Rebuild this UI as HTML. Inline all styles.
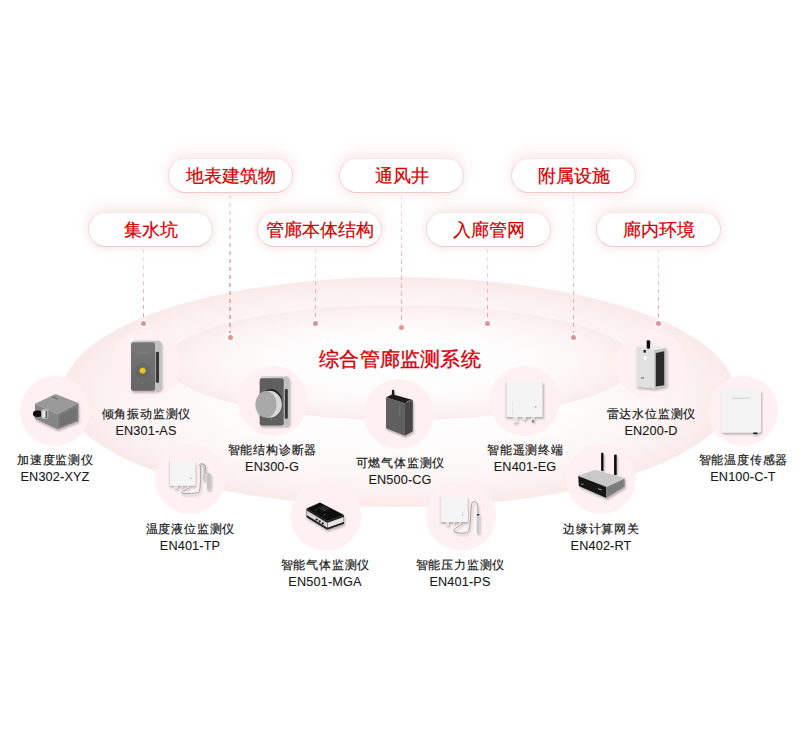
<!DOCTYPE html>
<html><head><meta charset="utf-8">
<style>
*{margin:0;padding:0;box-sizing:border-box}
html,body{width:800px;height:739px;background:#fff;overflow:hidden}
body{position:relative;font-family:"Liberation Sans",sans-serif}
.abs{position:absolute}
.ell1{position:absolute;left:62.6px;top:277.4px;width:671.6px;height:229.7px;border-radius:50%;
 background:radial-gradient(closest-side,#fff 0%,#fefcfc 50%,#fcf6f5 76%,#fbf0ef 90%,#faeaea 100%)}
.ell2{position:absolute;left:165px;top:305.3px;width:470px;height:115.2px;border-radius:50%;
 background:radial-gradient(closest-side,#fff 0%,#fefdfd 45%,#fdf8f8 70%,#fcf2f2 88%,#faecec 100%)}
.pill{position:absolute;width:125px;height:35px;border-radius:18px;background:#fff;
 border:1px solid;border-color:#f9e8e8 #f4d8d9 #efc8ca #f4d8d9;color:#d40000;font-size:18px;-webkit-text-stroke:.2px #d40000;line-height:34.5px;text-align:center;
 box-shadow:0 -6px 14px rgba(228,115,115,.13),0 3px 9px rgba(215,120,120,.12)}
.vline{position:absolute;
 background:repeating-linear-gradient(to bottom,#e9a3a8 0 4.5px,transparent 4.5px 8px);
 -webkit-mask-image:linear-gradient(to bottom,rgba(0,0,0,.3),rgba(0,0,0,.75) 45%,#000);mask-image:linear-gradient(to bottom,rgba(0,0,0,.3),rgba(0,0,0,.7) 45%,#000)}
.dot{position:absolute;width:5px;height:5px;border-radius:50%;background:#e3929a;box-shadow:0 0 0 1.4px rgba(255,255,255,.75)}
.circ{position:absolute;width:70px;height:70px;border-radius:50%;background:#fef0f3;filter:blur(.5px)}
.lab{position:absolute;width:120px;text-align:center;color:#1a1a1a;-webkit-text-stroke:.2px #1a1a1a;font-size:12px;letter-spacing:0.8px;text-indent:0.8px;line-height:16.5px;white-space:nowrap}
.m{font-size:12.7px;font-weight:400;letter-spacing:0.15px;-webkit-text-stroke:.12px #1a1a1a}
.title{position:absolute;left:300px;width:200px;top:346px;text-align:center;color:#d6000c;font-size:20px;line-height:26px;letter-spacing:0.2px;-webkit-text-stroke:.35px #d6000c}
</style></head><body>
<div class="ell1"></div>
<div class="ell2"></div>

<!-- dashed lines -->
<div class="vline" style="left:143.1px;top:249px;height:68.5px;width:1px"></div>
<div class="dot" style="left:141.10px;top:320.50px"></div>
<div class="vline" style="left:229.2px;top:195px;height:138px;width:1.6px"></div>
<div class="dot" style="left:227.50px;top:334.80px"></div>
<div class="vline" style="left:314.8px;top:249px;height:68.5px;width:1px"></div>
<div class="dot" style="left:312.80px;top:320.50px"></div>
<div class="vline" style="left:400.7px;top:195px;height:129px;width:1.2px"></div>
<div class="dot" style="left:398.80px;top:325.00px"></div>
<div class="vline" style="left:486.5px;top:249px;height:68.5px;width:1px"></div>
<div class="dot" style="left:484.50px;top:320.50px"></div>
<div class="vline" style="left:572.6px;top:195px;height:138px;width:1.2px"></div>
<div class="dot" style="left:570.70px;top:335.00px"></div>
<div class="vline" style="left:658px;top:249px;height:68.5px;width:1px"></div>
<div class="dot" style="left:656.00px;top:320.50px"></div>

<!-- pills -->
<div class="pill" style="left:168px;top:158px">地表建筑物</div>
<div class="pill" style="left:339px;top:158px">通风井</div>
<div class="pill" style="left:511px;top:158px">附属设施</div>
<div class="pill" style="left:88px;top:212px">集水坑</div>
<div class="pill" style="left:257px;top:212px">管廊本体结构</div>
<div class="pill" style="left:426px;top:212px">入廊管网</div>
<div class="pill" style="left:596px;top:212px">廊内环境</div>

<div class="title">综合管廊监测系统</div>

<!-- circles -->
<div class="circ" style="left:111px;top:329px"></div>
<div class="circ" style="left:20px;top:376px"></div>
<div class="circ" style="left:238px;top:366px"></div>
<div class="circ" style="left:364px;top:379px"></div>
<div class="circ" style="left:490px;top:366px"></div>
<div class="circ" style="left:616px;top:329px"></div>
<div class="circ" style="left:708px;top:376px"></div>
<div class="circ" style="left:155px;top:444px"></div>
<div class="circ" style="left:291px;top:481px"></div>
<div class="circ" style="left:426px;top:481px"></div>
<div class="circ" style="left:566px;top:444px"></div>

<!-- DEVICES -->
<svg class="abs" style="left:0;top:0" width="800" height="739" viewBox="0 0 800 739">
<defs>
<filter id="sh" x="-30%" y="-30%" width="160%" height="160%"><feGaussianBlur in="SourceAlpha" stdDeviation="1.2"/><feOffset dx="1" dy="1.5"/><feComponentTransfer><feFuncA type="linear" slope=".28"/></feComponentTransfer><feMerge><feMergeNode/><feMergeNode in="SourceGraphic"/></feMerge></filter>
<linearGradient id="g301" x1="0" y1="0" x2="0" y2="1"><stop offset="0" stop-color="#777"/><stop offset="1" stop-color="#666"/></linearGradient>
<linearGradient id="silv" x1="0" y1="0" x2="1" y2="0"><stop offset="0" stop-color="#d9d9d9"/><stop offset="1" stop-color="#bdbdbd"/></linearGradient>
</defs>
<!-- EN301-AS -->
<g filter="url(#sh)">
 <path d="M131.5,342.5 L134,340.2 L159.5,340.8 L161.5,343.5 L161.5,387.5 L158.5,390 L155,390.7 L155,343.2 Z" fill="url(#silv)"/>
 <rect x="131" y="342.3" width="24" height="48.5" rx="2" fill="url(#g301)"/>
 <rect x="155.8" y="351.8" width="3.2" height="31" rx="1" fill="#383838"/>
 <circle cx="142.6" cy="370.6" r="7" fill="none" stroke="#5c5c5c" stroke-width=".7"/>
 <circle cx="142.6" cy="370.6" r="5" fill="none" stroke="#5c5c5c" stroke-width=".7"/>
 <circle cx="142.6" cy="370.6" r="2.9" fill="#f1c415"/>
 <circle cx="142.2" cy="383.4" r=".7" fill="#3c3"/>
 <rect x="137.5" y="352.6" width="10" height=".8" fill="#888"/>
</g>
<!-- EN302-XYZ -->
<g filter="url(#sh)">
 <path d="M35,403.7 L55.3,394 L78.4,403 L57.4,413.9 Z" fill="#999"/>
 <path d="M35,403.7 L57.4,413.9 L57.4,429.3 L35,418.8 Z" fill="#868686"/>
 <path d="M57.4,413.9 L78.4,403 L78.4,420.9 L57.4,429.3 Z" fill="#7b7b7b"/>
 <path d="M59.5,416 L76.5,407.2 L76.5,419.8 L59.5,426.8 Z" fill="#727272"/>
 <path d="M35,403.7 L57.4,413.9 L78.4,403" fill="none" stroke="#a8a8a8" stroke-width=".7"/>
 <path d="M57.4,413.9 L57.4,429.3" stroke="#8c8c8c" stroke-width=".8"/>
 <rect x="52" y="397.5" width="6" height=".8" fill="#555" transform="rotate(25 55 398)"/>
 <path d="M33,413 C33,410.5 38,410 41,411 L41.5,416.5 C38,417.5 33,417 33,414.5 Z" fill="#111"/>
 <rect x="41.3" y="409.3" width="7" height="9.5" rx="2.2" fill="#c4c4c4"/>
 <rect x="42.6" y="411" width="3.2" height="6" rx="1" fill="#e8e8e8"/>
 <rect x="45.6" y="410.5" width="1.6" height="7.5" rx=".6" fill="#555"/>
</g>
<!-- EN300-G -->
<g filter="url(#sh)">
 <path d="M260,378.5 L262,375.9 L288,376.5 L289.5,379.2 L289.5,423.7 L287,425.4 L283.6,425.4 L283.6,378.5 Z" fill="url(#silv)"/>
 <rect x="259.7" y="378.3" width="24" height="47.1" rx="2" fill="#5f5f5f"/>
 <rect x="284.8" y="388.9" width="3" height="29.8" rx="1" fill="#353535"/>
 <ellipse cx="271" cy="402" rx="11" ry="13" fill="#222"/>
 <ellipse cx="269.5" cy="404.3" rx="12.3" ry="13.5" fill="#d8d8d8"/>
 <ellipse cx="266" cy="404.3" rx="10.5" ry="13.2" fill="#a9a9a9"/>
 <circle cx="271.4" cy="419.5" r=".7" fill="#3c3"/>
</g>
<!-- EN500-CG -->
<g filter="url(#sh)">
 <rect x="391.9" y="389.8" width="2.3" height="9" rx="1" fill="#1a1a1a"/>
 <path d="M386,397.3 L392.5,394.3 L412.8,400 L404.9,403.2 Z" fill="#1c1c1c"/>
 <path d="M386,397.3 L404.9,403.2 L404.9,435.8 L386,428.3 Z" fill="#5e5e5e"/>
 <path d="M404.9,403.2 L412.8,400 L412.8,431.3 L404.9,435.8 Z" fill="#464646"/>
 <rect x="399.3" y="406.5" width=".8" height="9" fill="#777"/>
 <path d="M406.5,401.5 L410.5,400 L410.5,400.8 L406.5,402.3Z" fill="#999"/>
</g>
<!-- EN401-EG -->
<g filter="url(#sh)">
 <rect x="513.6" y="416" width="3.9" height="6.5" fill="#e6e6e6"/>
 <rect x="522.7" y="416" width="3.3" height="3.8" fill="#e6e6e6"/>
 <rect x="531.5" y="416" width="2.8" height="5" fill="#e0e0e0"/>
 <rect x="532.3" y="420" width="1.3" height="2.5" fill="#555"/>
 <rect x="505.5" y="382.2" width="37.4" height="34.8" rx="1" fill="#f4f4f4"/>
 <rect x="505.5" y="382.2" width="1" height="34.8" fill="#d3d3d3"/>
 <rect x="542" y="382.2" width="1" height="34.8" fill="#dadada"/>
 <rect x="535" y="406.2" width="1.4" height="1.4" fill="#6ab0f0"/>
 <rect x="512.4" y="402" width=".6" height="13" fill="#e2e2e2"/>
</g>
<!-- EN200-D -->
<g filter="url(#sh)">
 <path d="M636.4,346.6 L641,345 L651.2,344.7 L666.4,348.1 L654.3,350.2 Z" fill="#ececec"/>
 <rect x="646.7" y="340.2" width="3.4" height="8.5" rx="1.2" fill="#111"/>
 <path d="M636.4,346.6 L654.3,350.2 L654.3,388.3 L636.4,386.5 Z" fill="#e1e1e1"/>
 <path d="M654.3,350.2 L666.4,348.1 L666.4,386 L654.3,388.3 Z" fill="#c4c4c4"/>
 <path d="M655.8,353 L664.2,351.3 L664.2,385.2 L655.8,386.6 Z" fill="#2a2a2a"/>
 <rect x="643.5" y="350" width="2.4" height="2.6" fill="#222"/>
 <circle cx="645.2" cy="358" r="2.6" fill="#f7f7f7" stroke="#cfcfcf" stroke-width=".5"/>
 <rect x="641" y="377.5" width="3" height=".9" fill="#555"/>
</g>
<!-- EN100-C-T -->
<g filter="url(#sh)">
 <rect x="753.3" y="431" width="4" height="3" fill="#111"/>
 <rect x="721.3" y="389.5" width="39.7" height="42.9" rx="2.5" fill="#f3f3f3"/>
 <rect x="732.5" y="397.7" width="17.3" height=".8" fill="#c4c4c4"/>
</g>
<!-- EN401-TP -->
<g filter="url(#sh)">
 <rect x="174.7" y="485" width="3" height="3.8" fill="#e4e4e4"/>
 <rect x="181.2" y="485" width="1.7" height="2.5" fill="#e4e4e4"/>
 <rect x="187.4" y="485" width="1.6" height="3" fill="#e4e4e4"/>
 <path d="M188.2,488 C186,491 181,490.5 181.5,492.8 C182,494.5 195,493.5 198.5,492.6 C201.5,491.5 200,468 200.5,465.5 C201,463 205,463.5 205.5,466.5 L206,474" fill="none" stroke="#9a9a9a" stroke-width=".9"/>
 <path d="M199,466 C199.5,463 203.5,463 204,465.5 L204.3,474" fill="none" stroke="#a5a5a5" stroke-width=".8"/>
 <rect x="203" y="473.9" width="2.6" height="6.5" rx=".8" fill="#c9c9c9"/>
 <rect x="206.9" y="473.2" width="3.7" height="16.3" rx="1" fill="#c4c4c4"/>
 <rect x="169.2" y="460.9" width="26" height="24.7" rx="1" fill="#f5f5f5"/>
 <rect x="169.2" y="460.9" width=".8" height="24.7" fill="#d7d7d7"/>
 <rect x="190.3" y="477.6" width="1.2" height="1.2" fill="#6ab0f0"/>
</g>
<!-- EN501-MGA -->
<g filter="url(#sh)">
 <path d="M306.5,508.4 L327.2,521 L327.2,529.8 L306.5,517.2 Z" fill="#1a1a1a"/>
 <path d="M306.8,510.5 L327,522.8 L327,527.5 L306.8,515.2 Z" fill="#d5d5d5"/>
 <path d="M327.2,521 L344,515 L344,523.8 L327.2,529.8 Z" fill="#1a1a1a"/>
 <path d="M327.5,522.8 L343.7,517 L343.7,522 L327.5,527.8 Z" fill="#e3e3e3"/>
 <path d="M306.5,508.4 L320,502.4 L344,515 L327.2,521 Z" fill="#111"/>
 <path d="M318,508 L324,505.5 L330,509 L324,511.5Z" fill="#2a2a2a"/>
 <circle cx="316.7" cy="519.5" r="1.1" fill="#111"/>
 <circle cx="319.7" cy="521.3" r="1.1" fill="#111"/>
 <circle cx="322.7" cy="523.4" r="1.1" fill="#111"/>
 <circle cx="316" cy="510" r=".5" fill="#7a3"/>
 <circle cx="324.3" cy="514.8" r=".5" fill="#7a3"/>
</g>
<!-- EN401-PS -->
<g filter="url(#sh)">
 <rect x="446.5" y="521.5" width="2.4" height="4.1" fill="#e4e4e4"/>
 <rect x="453.1" y="521.5" width="1.3" height="2.5" fill="#e4e4e4"/>
 <rect x="459.1" y="521.5" width="1.8" height="3.3" fill="#e4e4e4"/>
 <path d="M460,524.7 C459,527.5 453,528 454,531 C455,533.5 466,534 468,532 C471,529 470.5,505 472,503 C473.5,500.5 477.5,501.5 477.8,506 L478,514" fill="none" stroke="#9a9a9a" stroke-width=".9"/>
 <rect x="476.8" y="514" width="2.6" height="19" rx=".8" fill="#c8ccd2"/>
 <rect x="476.8" y="514" width="2.6" height="1.4" fill="#333"/>
 <rect x="439.9" y="496.5" width="27.6" height="25.5" rx="1" fill="#f5f5f5"/>
 <rect x="439.9" y="496.5" width=".8" height="25.5" fill="#d7d7d7"/>
 <rect x="462" y="514.3" width="1.2" height="1.2" fill="#6ab0f0"/>
</g>
<!-- EN402-RT -->
<g filter="url(#sh)">
 <rect x="601.1" y="452.8" width="2.4" height="18.3" rx="1" fill="#111"/>
 <rect x="614.1" y="454.6" width="2.6" height="20.7" rx="1" fill="#111"/>
 <path d="M578.2,475.7 L595.1,469.7 L624.7,478.1 L606.4,486.6 Z" fill="#c9c9c9"/>
 <path d="M578.2,475.7 L606.4,486.6 L606.4,497.9 L578.9,485.9 Z" fill="#161616"/>
 <path d="M606.4,486.6 L624.7,478.1 L624.7,486.6 L606.4,497.9 Z" fill="#828282"/>
 <path d="M608,488.5 L623,481.5 M608,490.5 L623,483.5 M608,492.5 L623,485.5 M608,494.5 L623,487.5" stroke="#5a5a5a" stroke-width=".6" stroke-dasharray="1 1"/>
 <path d="M578.2,475.7 L606.4,486.6 L624.7,478.1" fill="none" stroke="#e6e6e6" stroke-width=".6"/>
 <rect x="598" y="489" width="4" height=".8" fill="#bbb" transform="rotate(21 600 489)"/>
 <rect x="581" y="483.5" width="2.5" height="1.2" fill="#6a3" transform="rotate(21 582 484)"/>
</g>
</svg>


<!-- labels -->
<div class="lab" style="left:86px;top:406px">倾角振动监测仪<br><span class="m">EN301-AS</span></div>
<div class="lab" style="left:-5px;top:452px">加速度监测仪<br><span class="m">EN302-XYZ</span></div>
<div class="lab" style="left:212px;top:442px">智能结构诊断器<br><span class="m">EN300-G</span></div>
<div class="lab" style="left:340px;top:455px">可燃气体监测仪<br><span class="m">EN500-CG</span></div>
<div class="lab" style="left:465px;top:442px">智能遥测终端<br><span class="m">EN401-EG</span></div>
<div class="lab" style="left:591px;top:406px">雷达水位监测仪<br><span class="m">EN200-D</span></div>
<div class="lab" style="left:683px;top:452px">智能温度传感器<br><span class="m">EN100-C-T</span></div>
<div class="lab" style="left:130px;top:521px">温度液位监测仪<br><span class="m">EN401-TP</span></div>
<div class="lab" style="left:265px;top:557px">智能气体监测仪<br><span class="m">EN501-MGA</span></div>
<div class="lab" style="left:400px;top:557px">智能压力监测仪<br><span class="m">EN401-PS</span></div>
<div class="lab" style="left:541px;top:521px">边缘计算网关<br><span class="m">EN402-RT</span></div>
</body></html>
